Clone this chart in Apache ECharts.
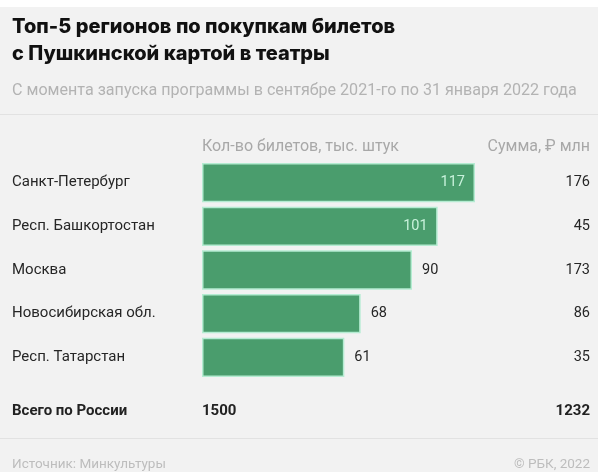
<!DOCTYPE html>
<html><head><meta charset="utf-8">
<script src="https://cdn.jsdelivr.net/npm/echarts@6/dist/echarts.min.js"></script>
<style>html,body{margin:0;padding:0;background:#f2f2f2;}#c{width:598px;height:472px;}</style>
</head><body><div id="c"></div>
<script>
const regions = ['Санкт-Петербург','Респ. Башкортостан','Москва','Новосибирская обл.','Респ. Татарстан'];
const tickets = [117, 101, 90, 68, 61];
const sums = [176, 45, 173, 86, 35];
const insideLabel = [true, true, false, false, false];
const totalLabel = 'Всего по России';
const totalTickets = 1500;
const totalSum = 1232;
const titleText = 'Топ-5 регионов по покупкам билетов\nс Пушкинской картой в театры';
const subtitleText = 'С момента запуска программы в сентябре 2021-го по 31 января 2022 года';
const colTickets = 'Кол-во билетов, тыс. штук';
const colSum = 'Сумма, ₽ млн';
const sourceText = 'Источник: Минкультуры';
const creditText = '© РБК, 2022';

const FONT = 'Roboto, sans-serif';
const TFONT = 'Inter, Roboto, sans-serif';
function t(x, y, text, font, fill, align) {
  return {type: 'text', x: x, y: y, style: {text: text, font: font, fill: fill, align: align || 'left', verticalAlign: 'middle'}};
}
const chart = echarts.init(document.getElementById('c'));
chart.setOption({
  backgroundColor: '#f2f2f2',
  animation: false,
  textStyle: {fontFamily: FONT},
  grid: {left: 202, right: 95, top: 160.8, bottom: 92.8},
  xAxis: {type: 'value', min: 0, max: 129, show: false},
  yAxis: [
    {type: 'category', data: regions, inverse: true, position: 'left',
     axisLine: {show: false}, axisTick: {show: false},
     axisLabel: {align: 'left', margin: 190, color: '#262626', fontSize: 15, fontFamily: FONT}},
    {type: 'category', data: sums, inverse: true, position: 'right',
     axisLine: {show: false}, axisTick: {show: false},
     axisLabel: {align: 'right', margin: 87, color: '#262626', fontSize: 14.5, fontFamily: FONT}}
  ],
  series: [{
    type: 'bar', yAxisIndex: 0, barCategoryGap: '10%',
    data: tickets.map((v, i) => ({
      value: v,
      label: insideLabel[i]
        ? {show: true, position: 'insideRight', distance: 10, color: '#c9f2dc'}
        : {show: true, position: 'right', distance: 10, color: '#262626'}
    })),
    itemStyle: {color: '#4a9d6d', borderColor: '#b5ecd2', borderWidth: 1.5},
    label: {fontSize: 14.5, fontFamily: FONT}
  }],
  graphic: [
    {type: 'rect', left: 0, top: 0, shape: {width: 598, height: 7}, style: {fill: '#ffffff'}},
    {type: 'text', left: 12, top: 13, style: {text: titleText, font: '800 20px ' + TFONT, fill: '#111', lineHeight: 27}},
    t(12, 91, subtitleText, '16.1px ' + FONT, '#b3b3b3'),
    {type: 'rect', left: 0, top: 114, shape: {width: 598, height: 1}, style: {fill: '#e2e2e2'}},
    t(202, 147, colTickets, '16px ' + FONT, '#a8a8a8'),
    t(590, 147, colSum, '16px ' + FONT, '#a8a8a8', 'right'),
    t(12, 411, totalLabel, 'bold 15px ' + FONT, '#222'),
    t(202, 411, String(totalTickets), 'bold 15px ' + FONT, '#222'),
    t(590, 411, String(totalSum), 'bold 15px ' + FONT, '#222', 'right'),
    {type: 'rect', left: 0, top: 438, shape: {width: 598, height: 1}, style: {fill: '#e2e2e2'}},
    t(12, 465, sourceText, '13.5px ' + FONT, '#bdbdbd'),
    t(590, 465, creditText, '13.5px ' + FONT, '#bdbdbd', 'right')
  ]
});
</script></body></html>
